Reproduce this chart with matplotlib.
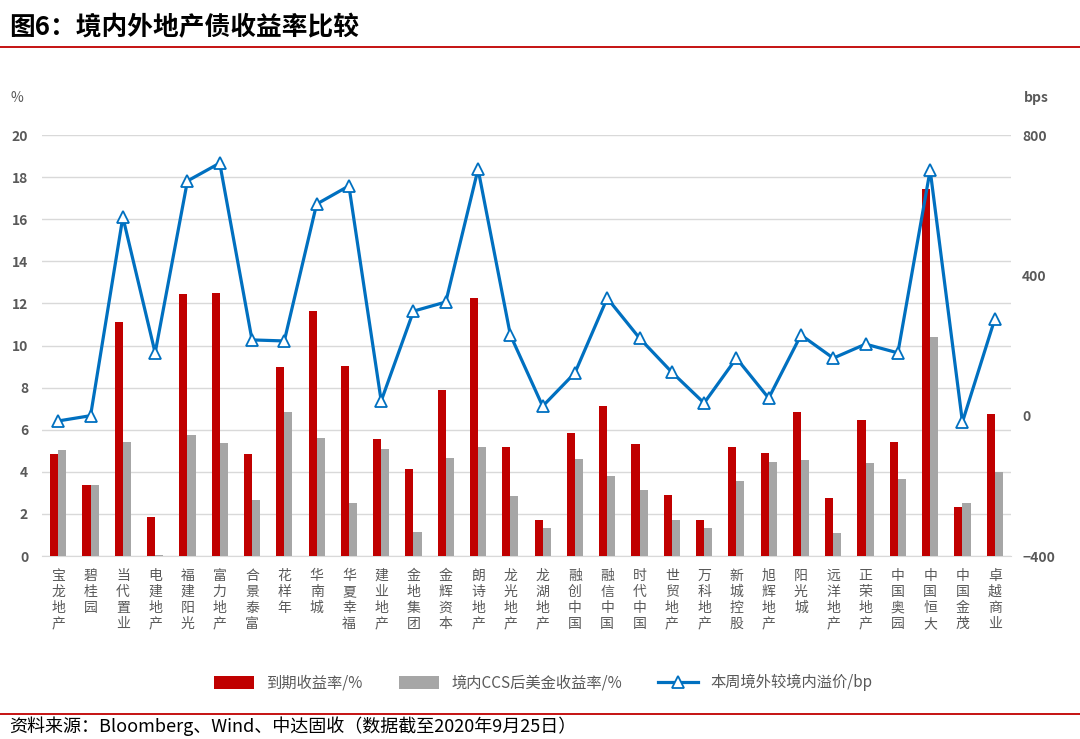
import numpy as np
import matplotlib.pyplot as plt
from matplotlib.lines import Line2D

plt.rcParams['font.family'] = ['Noto Sans CJK SC', 'DejaVu Sans']

# 数据
companies = ['宝龙地产', '碧桂园', '当代置业', '电建地产', '福建阳光', '富力地产', '合景泰富',
             '花样年', '华南城', '华夏幸福', '建业地产', '金地集团', '金辉资本', '朗诗地产',
             '龙光地产', '龙湖地产', '融创中国', '融信中国', '时代中国', '世贸地产', '万科地产',
             '新城控股', '旭辉地产', '阳光城', '远洋地产', '正荣地产', '中国奥园', '中国恒大',
             '中国金茂', '卓越商业']
ytm = [4.85, 3.37, 11.1, 1.85, 12.45, 12.5, 4.85, 9.0, 11.65, 9.05, 5.55, 4.15, 7.9, 12.25,
       5.2, 1.7, 5.85, 7.15, 5.3, 2.9, 1.7, 5.2, 4.9, 6.85, 2.75, 6.45, 5.4, 17.45, 2.35, 6.75]
ccs_yield = [5.05, 3.37, 5.4, 0.05, 5.75, 5.35, 2.65, 6.85, 5.6, 2.5, 5.1, 1.15, 4.65, 5.2,
             2.85, 1.35, 4.6, 3.8, 3.15, 1.7, 1.35, 3.55, 4.45, 4.55, 1.1, 4.4, 3.65, 10.4, 2.5, 4.0]
premium_bp = [-15, 0, 566, 179, 669, 720, 216, 213, 603, 655, 42, 298, 324, 703, 230, 27,
              122, 335, 221, 124, 36, 164, 50, 230, 164, 204, 179, 700, -18, 275]

red = '#C00000'
grey = '#A6A6A6'
blue = '#0070C0'
tick_col = '#595959'

fig = plt.figure(figsize=(10.8, 7.39), dpi=100)
ax = fig.add_axes([0.039, 0.2476, 0.897, 0.5697])
ax2 = ax.twinx()

x = np.arange(len(companies))
w = 0.25
ax.bar(x - w / 2, ytm, w, color=red, label='到期收益率/%', zorder=3)
ax.bar(x + w / 2, ccs_yield, w, color=grey, label='境内CCS后美金收益率/%', zorder=3)

ax2.plot(x, premium_bp, color=blue, lw=2.3, marker='^', markersize=8,
         markerfacecolor='white', markeredgecolor=blue, markeredgewidth=1.3,
         label='本周境外较境内溢价/bp', zorder=4)

ax.set_xlim(-0.5, len(companies) - 0.5)
ax.set_ylim(0, 20)
ax.set_yticks(range(0, 21, 2))
ax2.set_ylim(-400, 800)
ax2.set_yticks([-400, 0, 400, 800])

ax.grid(axis='y', color='#D9D9D9', lw=1, zorder=0)
for a in (ax, ax2):
    for s in a.spines.values():
        s.set_visible(False)
ax.spines['bottom'].set_visible(True)
ax.spines['bottom'].set_color('#D9D9D9')

ax.set_xticks(x)
ax.set_xticklabels(['\n'.join(c) for c in companies], fontsize=10, color=tick_col,
                   linespacing=1.2, va='top')
ax.tick_params(axis='x', length=0, pad=9)
ax.tick_params(axis='y', length=0, labelsize=10, labelcolor=tick_col, pad=10)
ax2.tick_params(axis='y', length=0, labelsize=10, labelcolor=tick_col, pad=8)
for lab in ax.get_yticklabels() + ax2.get_yticklabels():
    lab.set_fontweight('bold')

fig.text(0.016, 0.867, '%', fontsize=10, color=tick_col, ha='center', va='center')
fig.text(0.96, 0.867, 'bps', fontsize=10, color=tick_col, ha='center', va='center',
         fontweight='bold')

# 标题与来源
fig.text(0.008, 0.963, '图6：境内外地产债收益率比较', fontsize=18.5, fontweight='bold',
         ha='left', va='center', color='black')
fig.add_artist(Line2D([0, 1], [0.936, 0.936], color=red, lw=1.3, transform=fig.transFigure))
fig.add_artist(Line2D([0, 1], [0.034, 0.034], color=red, lw=1.3, transform=fig.transFigure))
fig.text(0.008, 0.017, '资料来源：Bloomberg、Wind、中达固收（数据截至2020年9月25日）',
         fontsize=13, ha='left', va='center', color='black')

h1, l1 = ax.get_legend_handles_labels()
h2, l2 = ax2.get_legend_handles_labels()
fig.legend(h1 + h2, l1 + l2, loc='center', bbox_to_anchor=(0.503, 0.076), ncol=3,
           frameon=False, fontsize=11, handlelength=2.6, handleheight=0.9,
           columnspacing=2.4, labelcolor=tick_col)

plt.savefig('out.png', dpi=100)
